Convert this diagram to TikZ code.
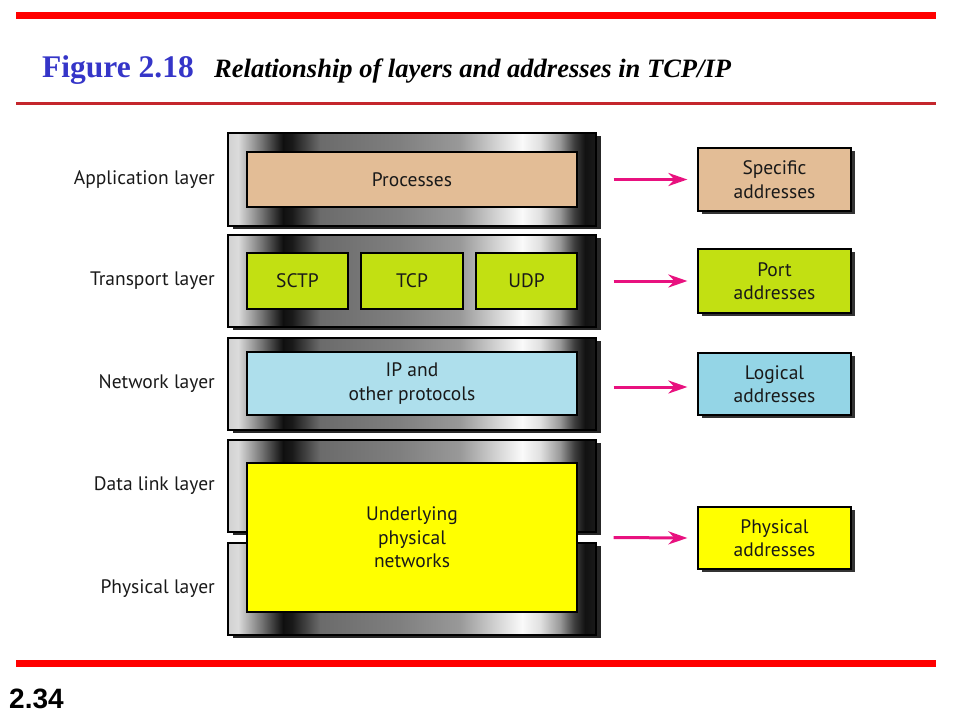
\documentclass[tikz,border=0pt]{standalone}
\usepackage{fontspec}
\setmainfont{Liberation Serif}
\newfontfamily\labfont{PT Sans}
\newfontfamily\numfont{Liberation Sans}
\usetikzlibrary{arrows.meta,shadows}
\definecolor{gA}{gray}{0.82}
\definecolor{gB}{gray}{0.86}
\definecolor{gC}{gray}{0.45}
\definecolor{gD}{gray}{0.06}
\definecolor{gE}{gray}{0.10}
\definecolor{gF}{gray}{0.42}
\definecolor{gG}{gray}{0.50}
\definecolor{gH}{gray}{0.60}
\definecolor{gI}{gray}{0.85}
\definecolor{gJ}{gray}{0.98}
\definecolor{gK}{gray}{0.88}
\definecolor{gL}{gray}{0.60}
\definecolor{gL2}{gray}{0.25}
\definecolor{gM}{gray}{0.07}
\definecolor{gN}{gray}{0.10}
\pgfdeclarehorizontalshading{metal}{100bp}{color(0bp)=(gA); color(25bp)=(gA); color(26.36bp)=(gB); color(29.62bp)=(gC); color(32.47bp)=(gD); color(33.70bp)=(gE); color(37.50bp)=(gF); color(48.37bp)=(gG); color(56.52bp)=(gH); color(61.96bp)=(gI); color(64.95bp)=(gJ); color(67.39bp)=(gK); color(70.11bp)=(gL); color(72.0bp)=(gL2); color(73.5bp)=(gM); color(75bp)=(gN); color(100bp)=(gN)}
\definecolor{tan}{HTML}{E3BD96}
\definecolor{lime}{HTML}{C2E012}
\definecolor{lblue}{HTML}{AEDFEC}
\definecolor{mblue}{HTML}{94D5E6}
\definecolor{yel}{HTML}{FFFF00}
\definecolor{mag}{HTML}{E8117F}
\definecolor{titleblue}{HTML}{3535C8}
\definecolor{barred}{HTML}{FF0000}
\definecolor{thinred}{HTML}{C4262C}
\tikzset{
  layerbox/.style={draw=black, line width=1.2pt, shading=metal, inner sep=0pt,
    minimum width=368pt, minimum height=92pt,
    drop shadow={shadow xshift=5pt, shadow yshift=-3pt, opacity=1, fill=black!85}},
  innerbox/.style={draw=black, line width=1.2pt, inner sep=0pt, align=center,
    font=\labfont\fontsize{19.5}{23.5}\selectfont, text=black!90},
  addrbox/.style={draw=black, line width=1.2pt, inner sep=0pt, align=center,
    minimum width=153pt, minimum height=63pt,
    font=\labfont\fontsize{19.5}{23.5}\selectfont, text=black!90,
    drop shadow={shadow xshift=4pt, shadow yshift=-3pt, opacity=1, fill=black!80}},
  laylabel/.style={anchor=east, inner sep=0pt, font=\labfont\fontsize{19.5}{22}\selectfont, text=black!90},
  arr/.style={draw=mag, line width=3pt, -{Stealth[length=19pt,width=13pt,inset=6pt]}}
}
\begin{document}
\begin{tikzpicture}[x=1pt,y=-1pt]
\useasboundingbox (0,0) rectangle (960,720);
% header bars
\fill[barred] (16,12) rectangle (936,19);
\fill[thinred] (16,102) rectangle (936,104.5);
\fill[barred] (16,660) rectangle (936,667);
\node[anchor=base west, inner sep=0pt, text=titleblue, font=\bfseries\fontsize{31.5}{34}\selectfont] (fig) at (42,77) {Figure 2.18};
\node[anchor=base west, inner sep=0pt, font=\bfseries\itshape\fontsize{26.5}{28}\selectfont] (ttl) at (214,77) {Relationship of layers and addresses in TCP/IP};
\node[anchor=base west, inner sep=0pt, font=\numfont\bfseries\fontsize{28}{30}\selectfont] (pg) at (9,708) {2.34};
% layers
\node[layerbox, minimum height=93pt] (app) at (412,179.5) {};
\node[layerbox] (trans) at (412,281) {};
\node[layerbox] (net) at (412,384) {};
\node[layerbox] (dl) at (412,486) {};
\node[layerbox] (phy) at (412,589) {};
% inner boxes
\node[innerbox, fill=tan, minimum width=330pt, minimum height=55pt] (proc) at (412,179.5) {Processes};
\node[innerbox, fill=lime, minimum width=101pt, minimum height=56pt] (sctp) at (297.5,281) {SCTP};
\node[innerbox, fill=lime, minimum width=102pt, minimum height=56pt] (tcp) at (412,281) {TCP};
\node[innerbox, fill=lime, minimum width=101pt, minimum height=56pt] (udp) at (526.5,281) {UDP};
\node[innerbox, fill=lblue, minimum width=330pt, minimum height=63pt] (ip) at (412,383.5) {IP and\\other protocols};
\node[innerbox, fill=yel, minimum width=330pt, minimum height=149pt] (under) at (412,537.5) {Underlying\\physical\\networks};
% layer labels
\node[laylabel] (lapp) at (215,180) {Application layer};
\node[laylabel] (ltrans) at (215,281) {Transport layer};
\node[laylabel] (lnet) at (215,384) {Network layer};
\node[laylabel] (ldl) at (215,486) {Data link layer};
\node[laylabel] (lphy) at (215,589) {Physical layer};
% address boxes
\node[addrbox, fill=tan] (spec) at (774.5,179.5) {Specific\\addresses};
\node[addrbox, fill=lime, minimum height=64pt] (port) at (774.5,281) {Port\\addresses};
\node[addrbox, fill=mblue, minimum height=62pt] (logi) at (774.5,384) {Logical\\addresses};
\node[addrbox, fill=yel, minimum height=62pt] (paddr) at (774.5,538) {Physical\\addresses};
% arrows
\draw[arr] ([xshift=17pt]app.east) -- ([xshift=-10pt]spec.west);
\draw[arr] ([xshift=17pt]trans.east) -- ([xshift=-10pt]port.west);
\draw[arr] ([xshift=17pt,yshift=-3pt]net.east) -- ([xshift=-10pt,yshift=-3pt]logi.west);
\draw[arr] ([xshift=36pt]under.east) -- ([xshift=-10pt]paddr.west);
\end{tikzpicture}
\end{document}
